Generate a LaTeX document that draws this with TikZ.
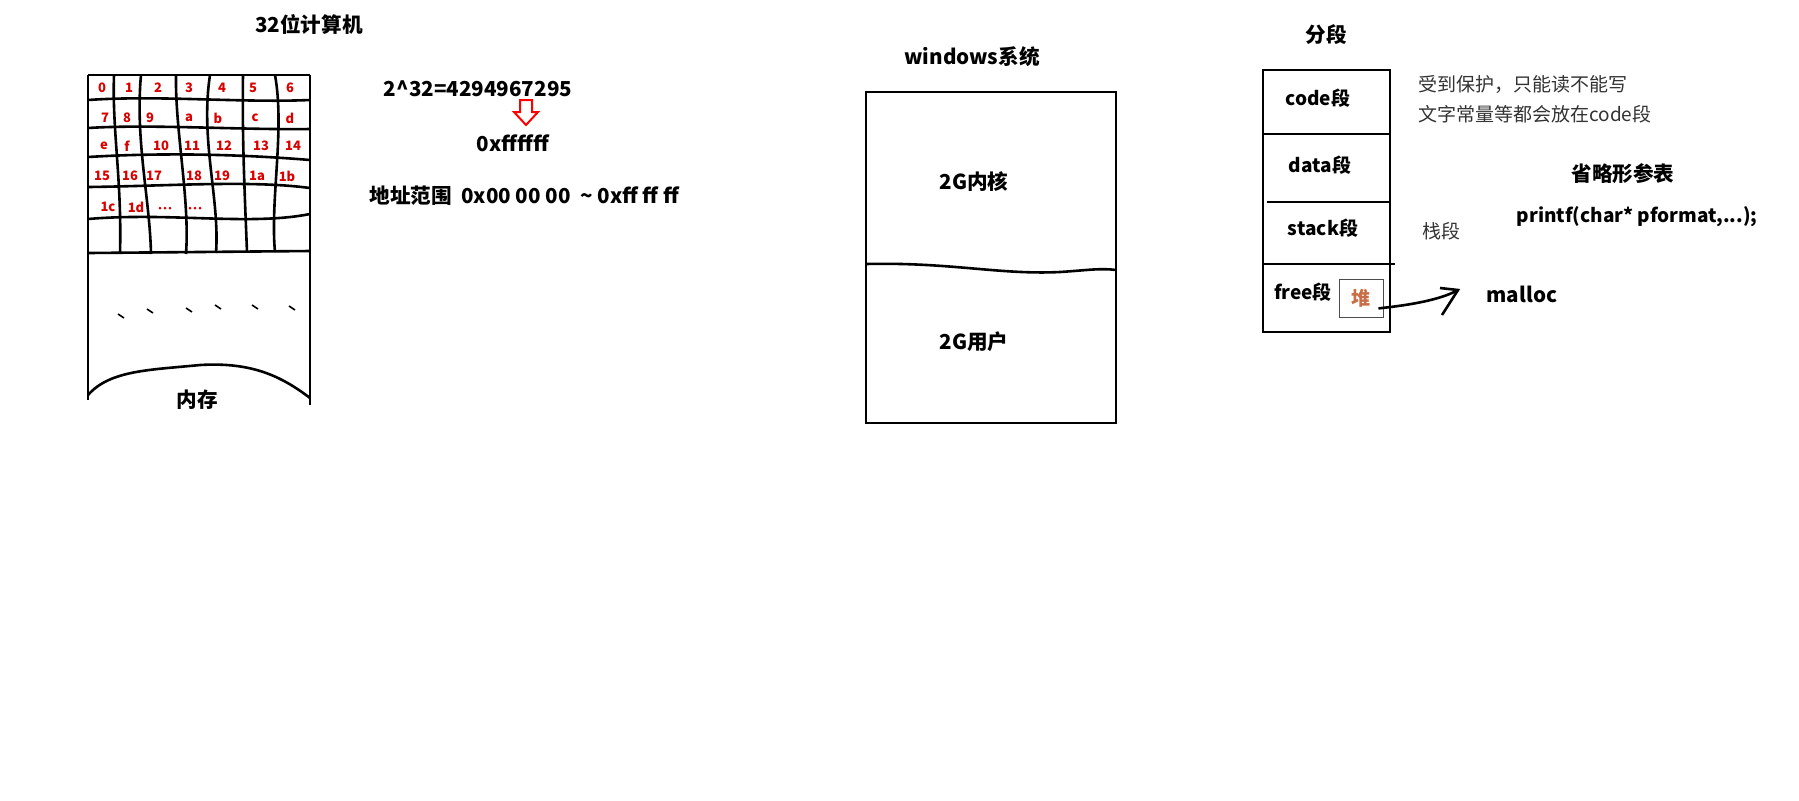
\documentclass[tikz,border=0pt]{standalone}
\usepackage{fontspec}
\setmainfont{Noto Sans CJK SC}
\usetikzlibrary{positioning}
\tikzset{
  hand/.style={line width=1.3pt, black},
  cell/.style={text=red!85!black, font=\fontsize{6.5}{6}\selectfont\bfseries, inner sep=0pt},
  bold/.style={font=\fontsize{10.3}{11}\selectfont\bfseries, inner sep=0pt},
  segtext/.style={font=\fontsize{9.5}{10}\selectfont\bfseries, inner sep=0pt},
  plain/.style={font=\fontsize{9.5}{10}\selectfont, inner sep=0pt, text=black!80},
}
\begin{document}
\begin{tikzpicture}[x=0.5pt, y=-0.5pt]
	\useasboundingbox[fill=white] (0,0) rectangle (1799,800);
	% memory block
	\node[bold](title) at (309,25){32位计算机};
	\draw[hand] (88,75) -- (88,400);
	\draw[hand] (310,75) -- (310,405);
	\draw[hand] (88,75) -- (310,75);
	\draw[hand] (88,100) .. controls (160,95) and (240,103) .. (310,100);
	\draw[hand] (88,128) .. controls (150,124) and (240,130) .. (310,129);
	\draw[hand] (88,157) .. controls (170,152) and (250,155) .. (310,160);
	\draw[hand] (88,187) .. controls (170,186) and (250,180) .. (310,188);
	\draw[hand] (88,219) .. controls (170,212) and (250,226) .. (310,214);
	\draw[hand] (88,253) -- (310,251);
	\draw[hand] (114,75) .. controls (112,130) and (122,180) .. (120,253);
	\draw[hand] (141,75) .. controls (135,140) and (150,200) .. (151,254);
	\draw[hand] (176,75) .. controls (175,130) and (190,200) .. (186,254);
	\draw[hand] (210,75) .. controls (200,140) and (220,200) .. (216,253);
	\draw[hand] (243,75) .. controls (242,140) and (245,200) .. (247,252);
	\draw[hand] (275,75) .. controls (285,130) and (270,200) .. (275,252);
	\foreach \t/\x in {0/102,1/129,2/158,3/189,4/222,5/253,6/290}
		\node[cell] at (\x,88){\t};
	\foreach \t/\x in {7/105,8/127,9/150,a/189,b/218,c/255,d/290}
		\node[cell] at (\x,118){\t};
	\foreach \t/\x in {e/104,f/127,10/161,11/192,12/224,13/261,14/293}
		\node[cell] at (\x,146){\t};
	\foreach \t/\x in {15/102,16/130,17/154,18/194,19/222,1a/257,1b/287}
		\node[cell] at (\x,176){\t};
	\foreach \t/\x in {1c/108,1d/136}
		\node[cell] at (\x,207){\t};
	\foreach \x in {165,195}
		\foreach \d in {-5,0,5}
			\fill[red!85!black] (\x+\d,208) circle (1.5);
	\foreach \x/\y in {121/316,150/311,189/310,218/307,255/307,292/308}
		\draw[line width=0.8pt] (\x-3,\y-2) -- (\x+3,\y+2);
	\draw[hand] (88,395) .. controls (110,370) and (150,370) .. (200,365)
		.. controls (250,362) and (280,375) .. (310,398);
	\node[bold](mem) at (197,400){内存};
	% address range
	\node[bold](pow) at (478,89){2\^{}32=4294967295};
	\draw[red, line width=1pt] (520,100) -- (532,100) -- (532,112) -- (538,112)
		-- (526,125) -- (514,112) -- (520,112) -- cycle;
	\node[bold](hex) at (513,143){0xffffff};
	\node[bold, anchor=west](range) at (369,196){地址范围\ \ 0x00 00 00\ \ \textasciitilde\ 0xff ff ff};
	% windows
	\node[bold](win) at (972,57){windows系统};
	\draw[hand] (866,92) rectangle (1116,423);
	\draw[hand] (866,264) .. controls (950,262) and (1000,275) .. (1060,272)
		.. controls (1090,270) and (1100,268) .. (1116,270);
	\node[bold](kernel) at (974,182){2G内核};
	\node[bold](user) at (974,342){2G用户};
	% segments
	\node[bold](seg) at (1326,35){分段};
	\draw[hand] (1263,70) rectangle (1390,332);
	\draw[hand] (1263,134) -- (1390,134);
	\draw[hand] (1267,202) -- (1390,202);
	\draw[hand] (1263,264) -- (1395,264);
	\node[segtext](code) at (1318,98){code段};
	\node[segtext](data) at (1320,165){data段};
	\node[segtext](stack) at (1323,228){stack段};
	\node[segtext](free) at (1303,292){free段};
	\node[draw=black!70, line width=0.4pt, minimum width=22pt, minimum height=19pt,
		font=\fontsize{9.5}{10}\selectfont\bfseries, text={rgb,255:red,200;green,110;blue,70}](heap) at (1361,298){堆};
	\node[plain, anchor=west](note1) at (1418,84){受到保护，只能读不能写};
	\node[plain, anchor=west](note2) at (1418,114){文字常量等都会放在code段};
	\node[plain](stk) at (1441,231){栈段};
	\node[bold](omit) at (1623,174){省略形参表};
	\node[segtext](printf) at (1637,217){printf(char* pformat,...);};
	\node[bold](malloc) at (1522,294){malloc};
	\coordinate (tip) at (1458,290);
	\draw[hand] (heap.south east) ++(-5,-9) .. controls (1410,305) and (1440,300) .. (tip);
	\draw[hand] (1440,288) -- (tip) -- (1442,315);
\end{tikzpicture}
\end{document}
